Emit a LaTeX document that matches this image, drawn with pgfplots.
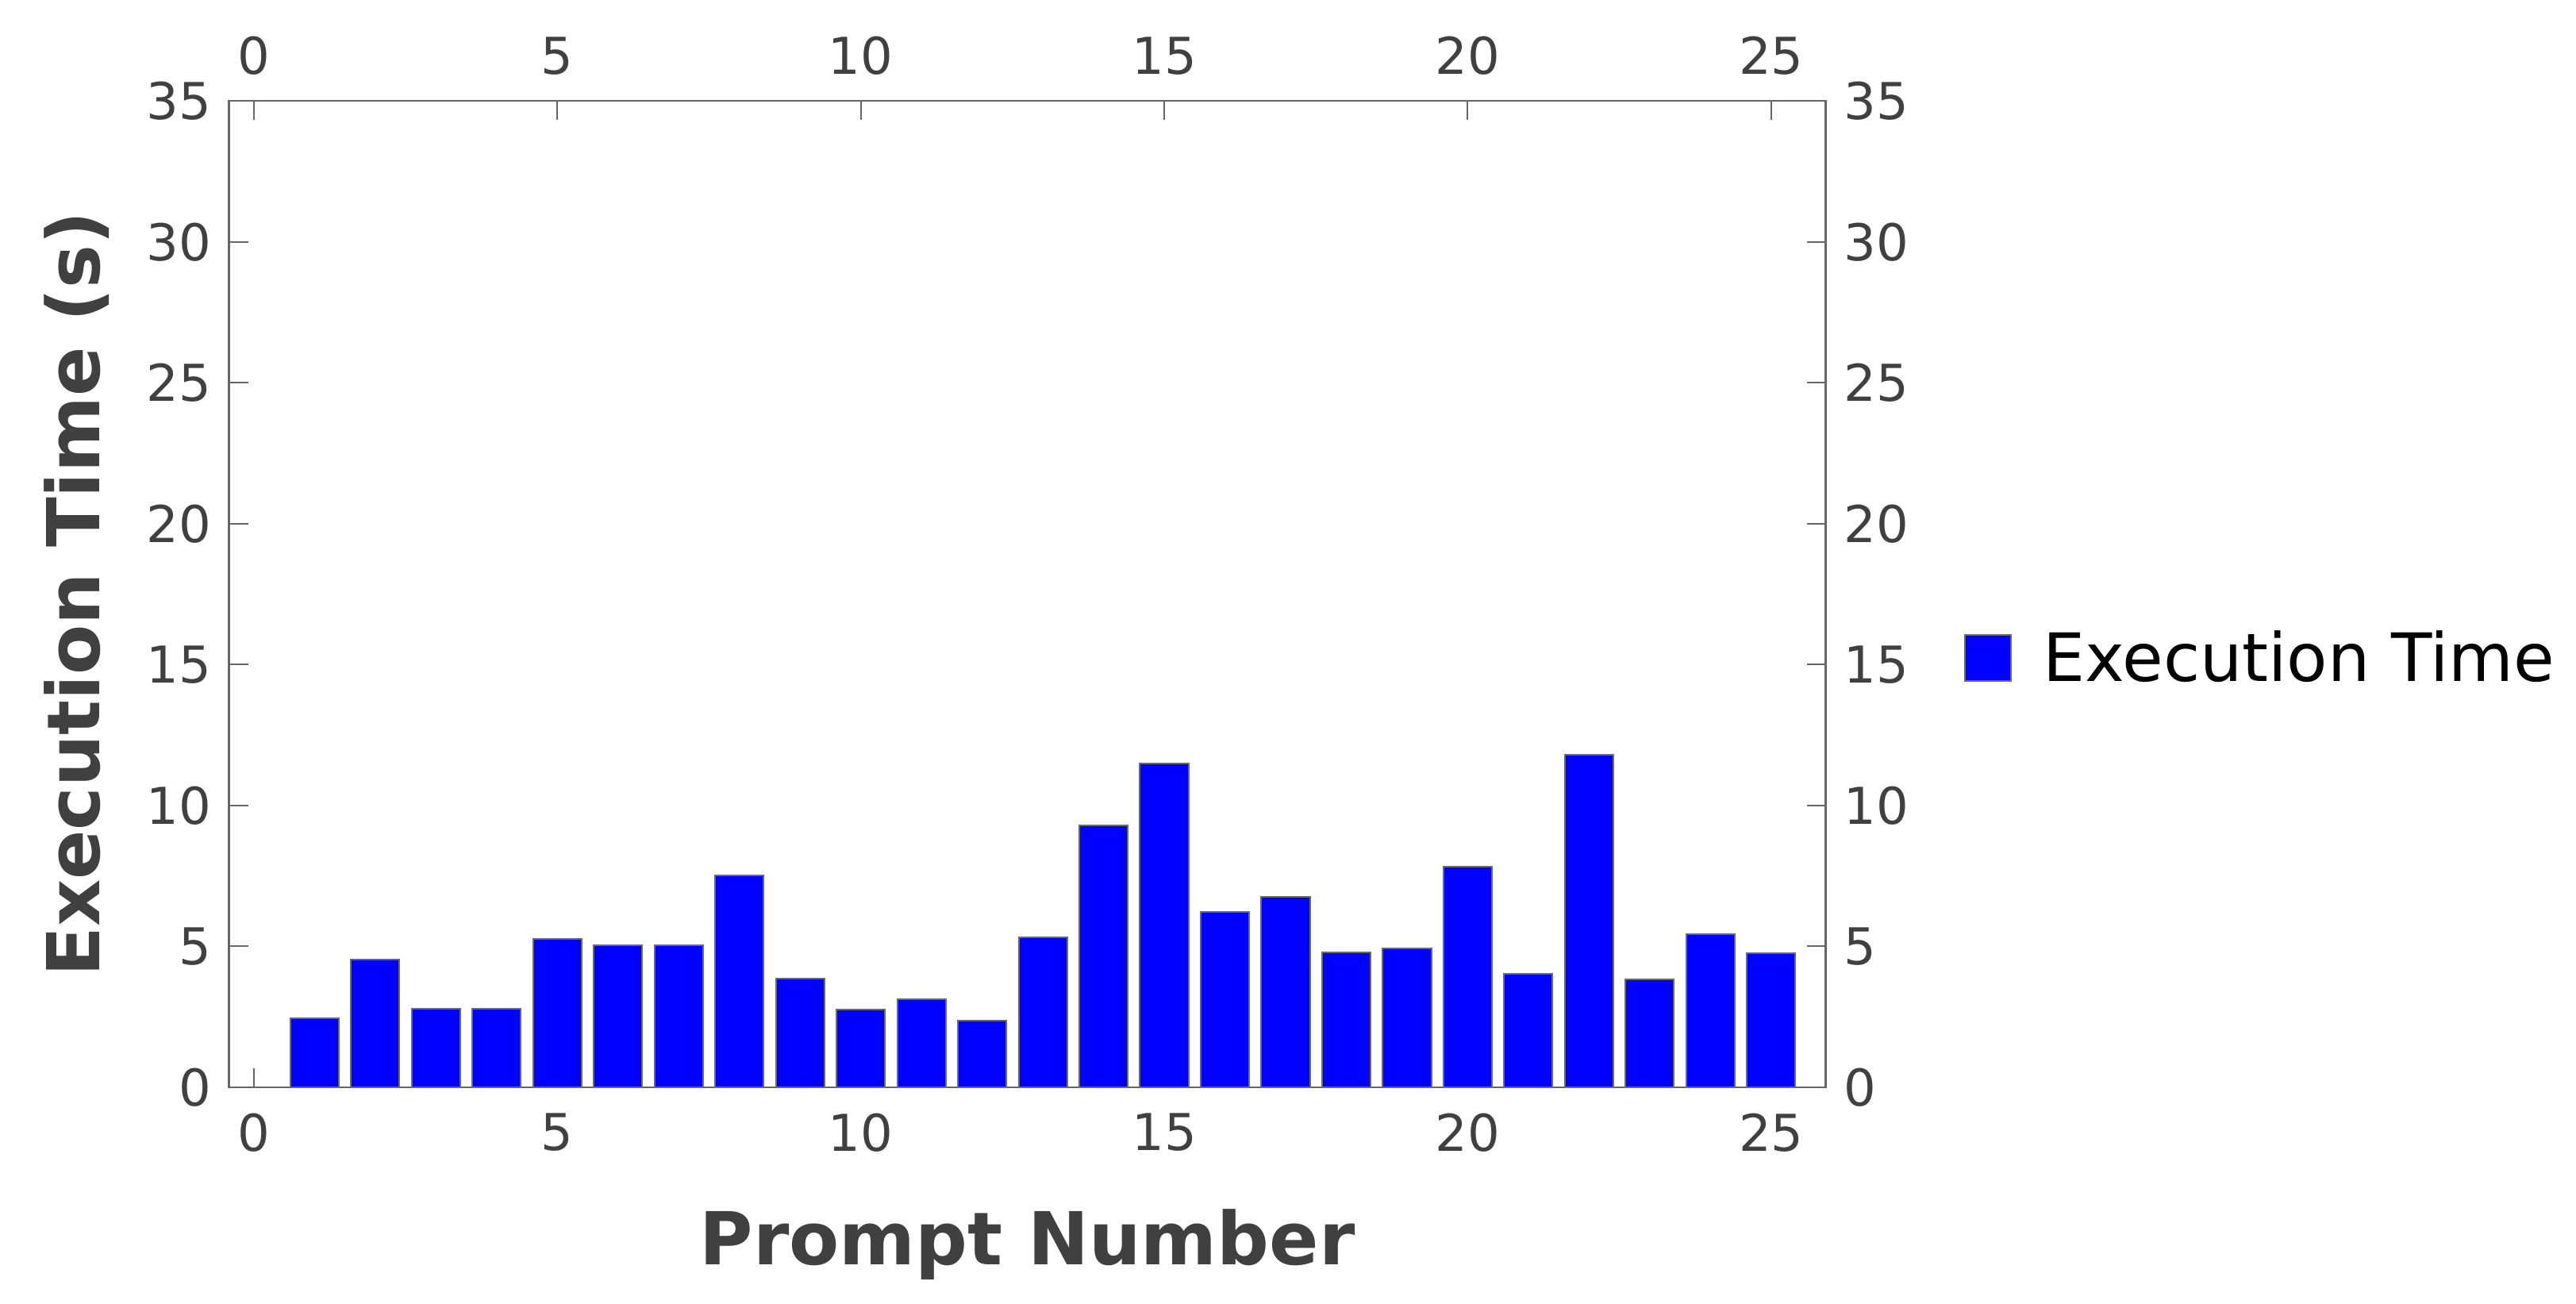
\documentclass[border=0pt]{standalone}
\usepackage{fontspec}
\setmainfont{DejaVu Sans}
\usepackage{pgfplots}
\pgfplotsset{compat=1.18}

\definecolor{axisgray}{HTML}{666666}
\definecolor{labelgray}{HTML}{404040}
\definecolor{edgegray}{HTML}{6A6A6A}

\pgfplotstableread{
n t
1 2.46
2 4.54
3 2.80
4 2.80
5 5.28
6 5.05
7 5.05
8 7.51
9 3.86
10 2.77
11 3.14
12 2.38
13 5.33
14 9.29
15 11.49
16 6.22
17 6.75
18 4.80
19 4.94
20 7.82
21 4.02
22 11.79
23 3.82
24 5.43
25 4.75
}\exectimes

\pgfplotsset{
  matlabbox/.style={
    width=503pt, height=310.7pt, scale only axis,
    xmin=-0.41, xmax=25.9, ymin=0, ymax=35,
    xtick={0,5,...,25}, ytick={0,5,...,35},
    tick align=inside, major tick length=6pt,
    every tick/.style={draw=axisgray, line width=0.5pt},
    axis line style={draw=axisgray, line width=0.6pt},
    /pgf/number format/assume math mode=true,
    tick label style={font=\fontsize{16}{16}\selectfont, text=labelgray, inner sep=0pt},
    xticklabel shift=8pt, yticklabel shift=5.5pt,
  },
}

\begin{document}
\begin{tikzpicture}
\path[use as bounding box] (-72.15pt,-68pt) rectangle (739.35pt,342.5pt);

\begin{axis}[
  matlabbox,
  xtick pos=both, ytick pos=both,
  xticklabel pos=lower, yticklabel pos=left,
  xlabel={Prompt Number},
  ylabel={Execution Time (s)},
  label style={font=\fontsize{23}{23}\selectfont\bfseries, text=labelgray},
  xlabel style={at={(axis description cs:0.5,-0.1802)}, anchor=base},
  ylabel style={at={(axis description cs:-0.0809,0.5)}, anchor=base, rotate=0},
  legend style={draw=none, fill=none, inner sep=0pt, outer sep=0pt,
    at={(1.0869,0.435)}, anchor=west,
    nodes={inner sep=0pt, font=\fontsize{21}{21}\selectfont},
    /tikz/every odd column/.append style={column sep=9.7pt}},
  legend image code/.code={\draw[#1] (0pt,-7.25pt) rectangle (14.5pt,7.25pt);},
]
\addplot[ybar, bar width=0.8, bar shift=0pt, fill=blue, draw=edgegray, line width=0.5pt]
  table[x=n, y=t] {\exectimes};
\addlegendentry{Execution Time}
\end{axis}

\begin{axis}[
  matlabbox,
  axis line style={draw=none},
  major tick length=0pt,
  xtick pos=upper, ytick pos=right,
  xticklabel pos=upper, yticklabel pos=right,
]
\end{axis}
\end{tikzpicture}
\end{document}
